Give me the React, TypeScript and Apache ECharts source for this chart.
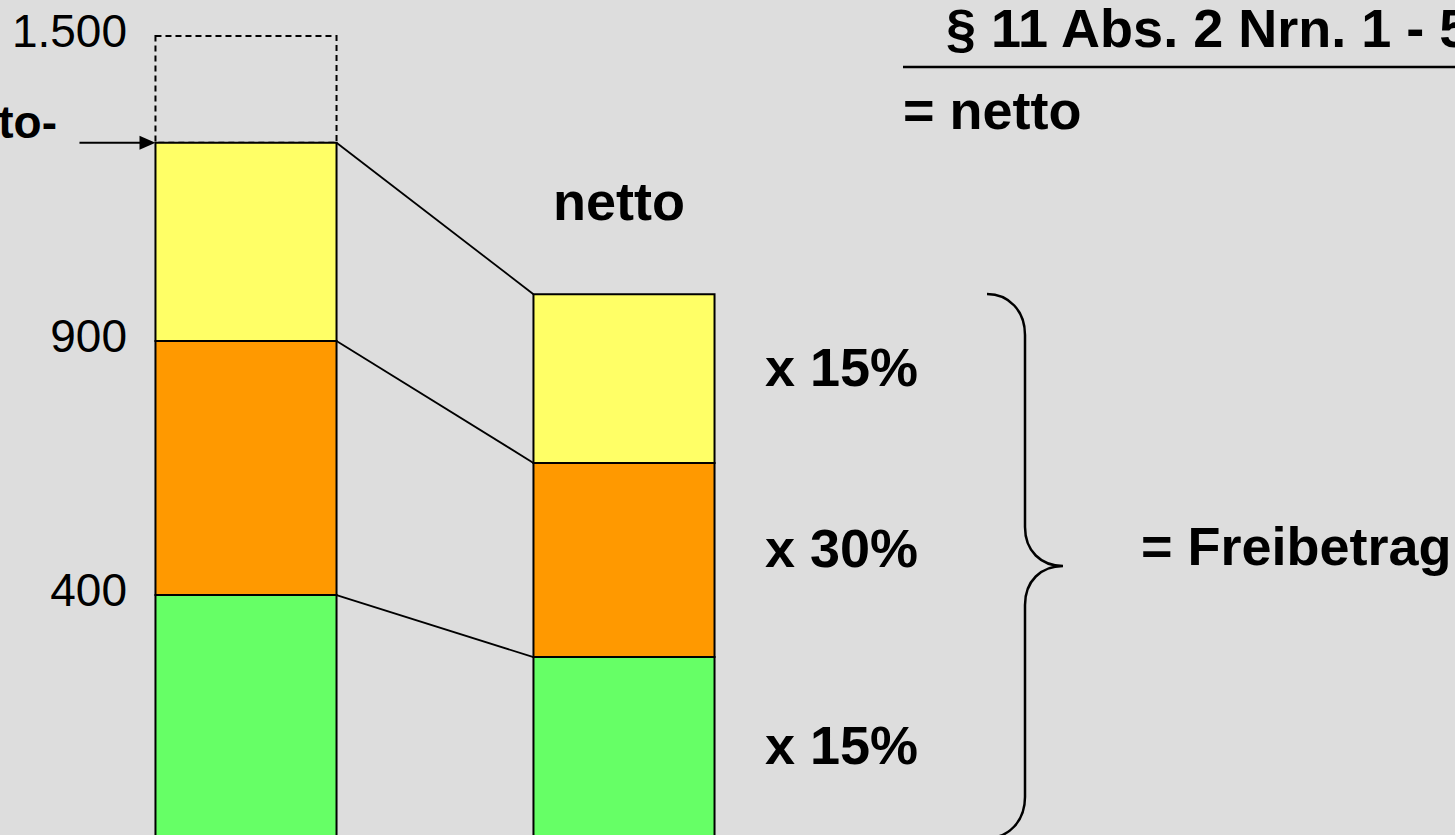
import React, { useEffect, useRef } from "react";
import * as echarts from "echarts";

// ---- data ----
const categories = ["brutto", "netto"];
const segmentNames = ["bis 400", "400 bis 900", "900 bis 1.500"];
const bruttoUpper = [400, 900, 1290]; // upper bound of each segment (brutto)
const nettoUpper = [278, 660, 992]; // upper bound of each segment (netto)
const grenzeOben = 1500;
const yTickValues = [400, 900, 1500];
const yMin = -72;
const yMax = 1500;
const rateLabels = ["x 15%", "x 30%", "x 15%"]; // top to bottom

// ---- styles ----
const segmentColors = ["#66FF66", "#FF9900", "#FFFF66"];
const FONT = "Arial, 'Liberation Sans', Helvetica, sans-serif";
const BAR_RATIO = 0.479;
const BOLD_SIZE = 54;

const BRACE_D =
  "M 987 294 C 1009 294 1025 311 1025 335 L 1025 527 C 1025 551 1041 566 1063 566 C 1041 566 1025 581 1025 605 L 1025 797 C 1025 821 1009 838 987 838";

let braceRegistered = false;

function fmt(v: number): string {
  if (v >= 1000) return `${Math.floor(v / 1000)}.${String(v % 1000).padStart(3, "0")}`;
  return String(v);
}

export default function App() {
  const ref = useRef<HTMLDivElement>(null);

  useEffect(() => {
    if (!ref.current) return;
    if (!braceRegistered) {
      echarts.graphic.registerShape("brace", echarts.graphic.extendPath(BRACE_D, {}));
      braceRegistered = true;
    }
    const chart = echarts.init(ref.current, null, { renderer: "svg" });

    const segData: number[][] = [];
    [bruttoUpper, nettoUpper].forEach((uppers, c) => {
      uppers.forEach((hi, s) => {
        const lo = s === 0 ? 0 : uppers[s - 1];
        segData.push([c, lo, hi, s]);
      });
    });

    const boldText = (text: string, x: number, y: number, align = "left", size = BOLD_SIZE) => ({
      type: "text",
      x,
      y,
      style: {
        text,
        fontFamily: FONT,
        fontSize: size,
        fontWeight: "bold",
        fill: "#000",
        align,
        verticalAlign: "middle",
      },
    });

    const option: any = {
      animation: false,
      backgroundColor: "#DDDDDD",
      grid: { left: 57, width: 756, top: 36, bottom: 0, containLabel: false },
      xAxis: {
        type: "category",
        data: categories,
        show: false,
      },
      yAxis: {
        type: "value",
        min: yMin,
        max: yMax,
        offset: -78,
        axisLine: { show: false },
        axisTick: { show: false },
        splitLine: { show: false },
        axisLabel: {
          customValues: yTickValues,
          formatter: (v: number) => fmt(v),
          fontFamily: FONT,
          fontSize: 46,
          color: "#000",
          margin: 8,
          verticalAlign: "bottom",
          lineHeight: 10,
        },
      },
      series: [
        {
          type: "custom",
          name: "Obergrenze",
          encode: { x: 0, y: [1, 2] },
          data: [[0, bruttoUpper[2], grenzeOben]],
          renderItem: (params: any, api: any) => {
            const c = api.value(0);
            const bw = api.size([1, 0])[0] * BAR_RATIO;
            const pTop = api.coord([c, api.value(2)]);
            const pBot = api.coord([c, api.value(1)]);
            return {
              type: "rect",
              shape: { x: pTop[0] - bw / 2, y: pTop[1], width: bw, height: pBot[1] - pTop[1] },
              style: { fill: "none", stroke: "#000", lineWidth: 2, lineDash: [6, 4] },
            };
          },
        },
        {
          type: "custom",
          name: "Einkommen",
          encode: { x: 0, y: [1, 2] },
          data: segData,
          renderItem: (params: any, api: any) => {
            const c = api.value(0);
            const lo = api.value(1);
            const hi = api.value(2);
            const s = api.value(3);
            const cs = params.coordSys;
            const bw = api.size([1, 0])[0] * BAR_RATIO;
            const pTop = api.coord([c, hi]);
            const yBot = lo <= 0 ? cs.y + cs.height + 6 : api.coord([c, lo])[1];
            return {
              type: "rect",
              shape: { x: pTop[0] - bw / 2, y: pTop[1], width: bw, height: yBot - pTop[1] },
              style: { fill: segmentColors[s], stroke: "#000", lineWidth: 2 },
            };
          },
        },
        {
          type: "custom",
          name: "Verbindungen",
          encode: { x: 0, y: [1, 2] },
          data: bruttoUpper.map((b, i) => [0, b, nettoUpper[i]]),
          renderItem: (params: any, api: any) => {
            const bw = api.size([1, 0])[0] * BAR_RATIO;
            const p1 = api.coord([0, api.value(1)]);
            const p2 = api.coord([1, api.value(2)]);
            return {
              type: "line",
              shape: { x1: p1[0] + bw / 2, y1: p1[1], x2: p2[0] - bw / 2, y2: p2[1] },
              style: { stroke: "#000", lineWidth: 1.8 },
            };
          },
        },
        {
          type: "custom",
          name: "Pfeil",
          encode: { x: 0, y: 1 },
          data: [[0, bruttoUpper[2]]],
          renderItem: (params: any, api: any) => {
            const bw = api.size([1, 0])[0] * BAR_RATIO;
            const p = api.coord([0, api.value(1)]);
            const tipX = p[0] - bw / 2;
            const y = p[1];
            return {
              type: "group",
              children: [
                {
                  type: "line",
                  shape: { x1: tipX - 76, y1: y, x2: tipX - 12, y2: y },
                  style: { stroke: "#000", lineWidth: 2 },
                },
                {
                  type: "polygon",
                  shape: { points: [[tipX, y], [tipX - 16, y - 7], [tipX - 16, y + 7]] },
                  style: { fill: "#000" },
                },
              ],
            };
          },
        },
      ],
      graphic: [
        boldText("Brutto-", 57, 122, "right", 46),
        boldText("netto", 619, 201, "center"),
        boldText("§ 11 Abs. 2 Nrn. 1 - 5", 946, 28),
        {
          type: "line",
          shape: { x1: 903, y1: 67, x2: 1455, y2: 67 },
          style: { stroke: "#000", lineWidth: 2.5 },
        },
        boldText("= netto", 903, 110),
        boldText(rateLabels[0], 765, 367),
        boldText(rateLabels[1], 765, 548),
        boldText(rateLabels[2], 765, 745),
        {
          type: "brace",
          x: 0,
          y: 0,
          style: { fill: "none", stroke: "#000", lineWidth: 2.5 },
        },
        boldText("= Freibetrag", 1141, 546),
      ],
    };

    chart.setOption(option);
    return () => chart.dispose();
  }, []);

  return (
    <div
      ref={ref}
      style={{ position: "fixed", left: 0, top: 0, width: 1455, height: 835 }}
    />
  );
}
